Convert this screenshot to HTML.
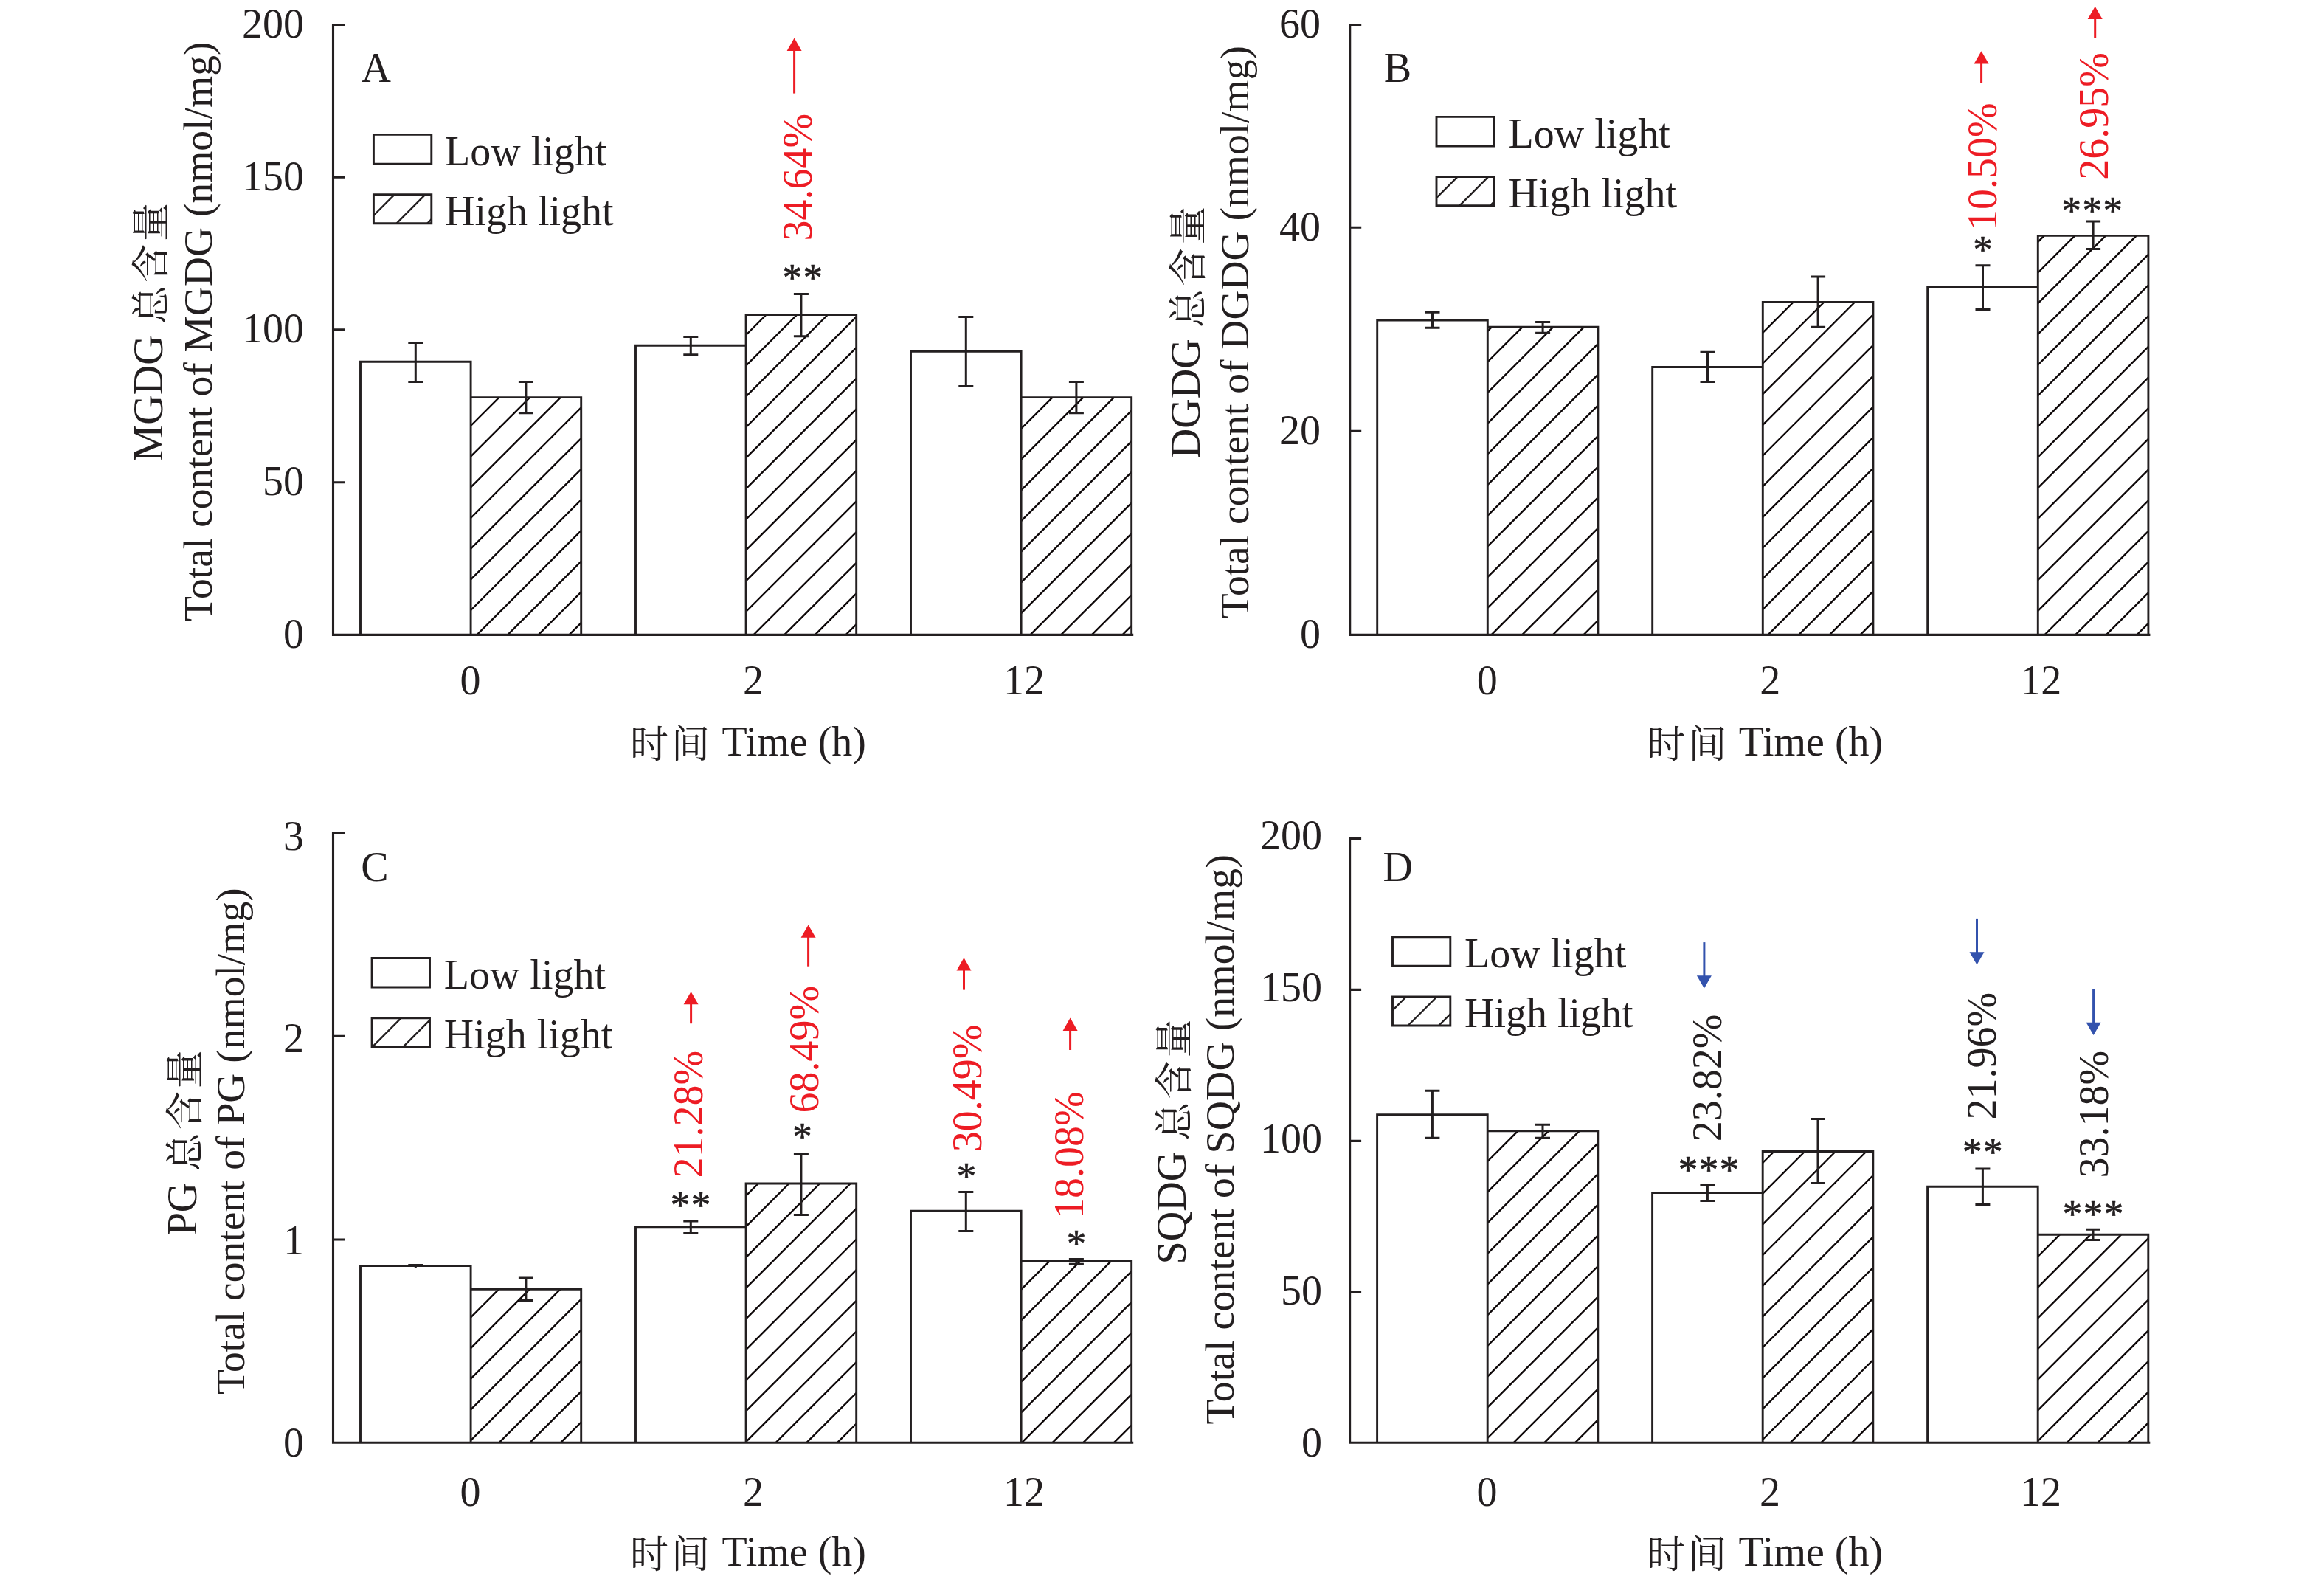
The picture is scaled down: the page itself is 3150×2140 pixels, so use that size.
<!DOCTYPE html>
<html lang="zh"><head><meta charset="utf-8"><title>Figure</title>
<style>html,body{margin:0;padding:0;background:#fff}svg{display:block}
text{font-family:"Liberation Serif","Noto Serif CJK SC",serif;font-size:56px;fill:#231f20}
.st{font-size:53px;letter-spacing:1.5px;stroke:#231f20;stroke-width:0.7px;stroke-linejoin:round}</style></head>
<body><svg width="3150" height="2140" viewBox="0 0 3150 2140">
<rect width="3150" height="2140" fill="#fff"/>
<path d="M638.1 577.0L676.5 538.6M638.1 618.7L718.2 538.6M638.1 660.4L759.9 538.6M638.1 702.0L787.7 552.4M638.1 743.7L787.7 594.1M638.1 785.4L787.7 635.8M638.1 827.0L787.7 677.4M646.4 860.4L787.7 719.1M688.1 860.4L787.7 760.8M729.7 860.4L787.7 802.4M771.4 860.4L787.7 844.1M1011.1 454.0L1038.6 426.5M1011.1 495.7L1080.3 426.5M1011.1 537.4L1122.0 426.5M1011.1 579.0L1160.7 429.4M1011.1 620.7L1160.7 471.1M1011.1 662.4L1160.7 512.8M1011.1 704.0L1160.7 554.4M1011.1 745.7L1160.7 596.1M1011.1 787.4L1160.7 637.8M1011.1 829.0L1160.7 679.4M1021.4 860.4L1160.7 721.1M1063.1 860.4L1160.7 762.8M1104.7 860.4L1160.7 804.4M1146.4 860.4L1160.7 846.1M1384.1 539.4L1384.9 538.6M1384.1 581.0L1426.5 538.6M1384.1 622.7L1468.2 538.6M1384.1 664.4L1509.9 538.6M1384.1 706.1L1533.7 556.5M1384.1 747.7L1533.7 598.1M1384.1 789.4L1533.7 639.8M1384.1 831.1L1533.7 681.5M1396.4 860.4L1533.7 723.1M1438.1 860.4L1533.7 764.8M1479.8 860.4L1533.7 806.5M1521.4 860.4L1533.7 848.1" stroke="#0d0708" stroke-width="2.4" fill="none"/>
<path d="M488.5 860.4V490.3H638.1V860.4M638.1 860.4V538.6H787.7V860.4M861.5 860.4V468.3H1011.1V860.4M1011.1 860.4V426.5H1160.7V860.4M1234.5 860.4V476.3H1384.1V860.4M1384.1 860.4V538.6H1533.7V860.4" stroke="#231f20" stroke-width="2.9" fill="none" stroke-linejoin="miter"/>
<path d="M563.3 464.5V517.6M553.3 464.5H573.3M553.3 517.6H573.3M712.9 517.4V559.7M702.9 517.4H722.9M702.9 559.7H722.9M936.3 456.4V480.7M926.3 456.4H946.3M926.3 480.7H946.3M1085.9 398.5V455.7M1075.9 398.5H1095.9M1075.9 455.7H1095.9M1309.3 429.6V523.6M1299.3 429.6H1319.3M1299.3 523.6H1319.3M1458.9 517.4V559.7M1448.9 517.4H1468.9M1448.9 559.7H1468.9" stroke="#231f20" stroke-width="3.0" fill="none"/>
<path d="M451.5 31.9V860.4H1536.2M451.5 33.5H467.0M451.5 240.2H467.0M451.5 446.9H467.0M451.5 653.7H467.0" stroke="#231f20" stroke-width="3.1" fill="none" stroke-linejoin="miter"/>
<text x="411.9" y="50.9" text-anchor="end">200</text>
<text x="411.9" y="257.6" text-anchor="end">150</text>
<text x="411.9" y="464.3" text-anchor="end">100</text>
<text x="411.9" y="671.1" text-anchor="end">50</text>
<text x="411.9" y="878.2" text-anchor="end">0</text>
<text x="637.5" y="941.0" text-anchor="middle">0</text>
<text x="1021.0" y="941.0" text-anchor="middle">2</text>
<text x="1388.0" y="941.0" text-anchor="middle">12</text>
<text x="1012.5" y="1023.6" text-anchor="middle"><tspan font-size="52" letter-spacing="4" dx="1.5" dy="3">时间</tspan><tspan dx="-1.5" dy="-3"> Time (h)</tspan></text>
<text transform="translate(220.0 448.2) rotate(-90)" text-anchor="middle">MGDG <tspan font-size="52" letter-spacing="4" dx="1.5" dy="3">总含量</tspan><tspan dx="-1.5" dy="-3"></tspan></text>
<text transform="translate(286.8 449.3) rotate(-90)" text-anchor="middle" style="font-size:55.5px">Total content of MGDG (nmol/mg)</text>
<text x="489.6" y="111.0">A</text>
<path d="M506.4 292.0L534.8 263.6M537.4 302.8L576.5 263.6M579.1 302.8L584.8 297.0" stroke="#231f20" stroke-width="2.4" fill="none"/>
<path d="M506.4 182.4H584.8V222.1H506.4ZM506.4 263.6H584.8V302.8H506.4Z" stroke="#231f20" stroke-width="2.9" fill="none"/>
<text x="603.0" y="224.0">Low light</text>
<text x="603.0" y="305.0">High light</text>
<text transform="translate(1099.5 326.5) rotate(-90)" style="fill:#ed1c24">34.64%</text>
<path d="M1076.6 126.6V67.9" stroke="#ed1c24" stroke-width="3" fill="none"/>
<path d="M1066.6 68.9L1086.6 68.9L1076.6 51.6Z" fill="#ed1c24"/>
<text x="1088.5" y="394.1" text-anchor="middle" class="st">**</text>
<path d="M2016.3 448.9L2022.0 443.2M2016.3 490.5L2063.6 443.2M2016.3 532.2L2105.3 443.2M2016.3 573.9L2147.0 443.2M2016.3 615.5L2165.9 465.9M2016.3 657.2L2165.9 507.6M2016.3 698.9L2165.9 549.3M2016.3 740.5L2165.9 590.9M2016.3 782.2L2165.9 632.6M2016.3 823.9L2165.9 674.3M2021.4 860.4L2165.9 715.9M2063.1 860.4L2165.9 757.6M2104.8 860.4L2165.9 799.3M2146.4 860.4L2165.9 840.9M2389.3 450.9L2430.7 409.5M2389.3 492.5L2472.3 409.5M2389.3 534.2L2514.0 409.5M2389.3 575.9L2538.9 426.3M2389.3 617.5L2538.9 467.9M2389.3 659.2L2538.9 509.6M2389.3 700.9L2538.9 551.3M2389.3 742.5L2538.9 592.9M2389.3 784.2L2538.9 634.6M2389.3 825.9L2538.9 676.3M2396.4 860.4L2538.9 717.9M2438.1 860.4L2538.9 759.6M2479.8 860.4L2538.9 801.3M2521.4 860.4L2538.9 842.9M2762.3 327.9L2770.8 319.4M2762.3 369.5L2812.4 319.4M2762.3 411.2L2854.1 319.4M2762.3 452.9L2895.8 319.4M2762.3 494.5L2911.9 344.9M2762.3 536.2L2911.9 386.6M2762.3 577.9L2911.9 428.3M2762.3 619.5L2911.9 469.9M2762.3 661.2L2911.9 511.6M2762.3 702.9L2911.9 553.3M2762.3 744.5L2911.9 594.9M2762.3 786.2L2911.9 636.6M2762.3 827.9L2911.9 678.3M2771.4 860.4L2911.9 719.9M2813.1 860.4L2911.9 761.6M2854.8 860.4L2911.9 803.3M2896.4 860.4L2911.9 844.9" stroke="#0d0708" stroke-width="2.4" fill="none"/>
<path d="M1866.7 860.4V434.1H2016.3V860.4M2016.3 860.4V443.2H2165.9V860.4M2239.7 860.4V497.5H2389.3V860.4M2389.3 860.4V409.5H2538.9V860.4M2612.7 860.4V389.4H2762.3V860.4M2762.3 860.4V319.4H2911.9V860.4" stroke="#231f20" stroke-width="2.9" fill="none" stroke-linejoin="miter"/>
<path d="M1941.5 423.3V444.3M1931.5 423.3H1951.5M1931.5 444.3H1951.5M2091.1 436.4V451.2M2081.1 436.4H2101.1M2081.1 451.2H2101.1M2314.5 477.3V517.6M2304.5 477.3H2324.5M2304.5 517.6H2324.5M2464.1 375.1V443.3M2454.1 375.1H2474.1M2454.1 443.3H2474.1M2687.5 359.8V419.5M2677.5 359.8H2697.5M2677.5 419.5H2697.5M2837.1 300.1V337.4M2827.1 300.1H2847.1M2827.1 337.4H2847.1" stroke="#231f20" stroke-width="3.0" fill="none"/>
<path d="M1829.7 31.9V860.4H2914.4M1829.7 33.5H1845.2M1829.7 308.3H1845.2M1829.7 584.4H1845.2" stroke="#231f20" stroke-width="3.1" fill="none" stroke-linejoin="miter"/>
<text x="1790.1" y="51.2" text-anchor="end">60</text>
<text x="1790.1" y="326.2" text-anchor="end">40</text>
<text x="1790.1" y="602.3" text-anchor="end">20</text>
<text x="1790.1" y="878.4" text-anchor="end">0</text>
<text x="2015.7" y="941.0" text-anchor="middle">0</text>
<text x="2399.2" y="941.0" text-anchor="middle">2</text>
<text x="2766.2" y="941.0" text-anchor="middle">12</text>
<text x="2390.7" y="1023.6" text-anchor="middle"><tspan font-size="52" letter-spacing="4" dx="1.5" dy="3">时间</tspan><tspan dx="-1.5" dy="-3"> Time (h)</tspan></text>
<text transform="translate(1625.8 448.5) rotate(-90)" text-anchor="middle">DGDG <tspan font-size="52" letter-spacing="4" dx="1.5" dy="3">总含量</tspan><tspan dx="-1.5" dy="-3"></tspan></text>
<text transform="translate(1692.2 450.1) rotate(-90)" text-anchor="middle" style="font-size:55.5px">Total content of DGDG (nmol/mg)</text>
<text x="1875.7" y="111.0">B</text>
<path d="M1947.0 268.2L1975.5 239.7M1978.1 278.8L2017.2 239.7M2019.7 278.8L2025.3 273.1" stroke="#231f20" stroke-width="2.4" fill="none"/>
<path d="M1947.0 158.4H2025.3V198.1H1947.0ZM1947.0 239.6H2025.3V278.8H1947.0Z" stroke="#231f20" stroke-width="2.9" fill="none"/>
<text x="2044.5" y="200.0">Low light</text>
<text x="2044.5" y="281.0">High light</text>
<text transform="translate(2705.7 312.0) rotate(-90)" style="fill:#ed1c24">10.50%</text>
<path d="M2685.6 112.2V85.6" stroke="#ed1c24" stroke-width="3" fill="none"/>
<path d="M2675.6 86.6L2695.6 86.6L2685.6 69.3Z" fill="#ed1c24"/>
<text x="2688.2" y="356.1" text-anchor="middle" class="st">*</text>
<text transform="translate(2857.2 243.8) rotate(-90)" style="fill:#ed1c24">26.95%</text>
<path d="M2839.7 51.9V25.0" stroke="#ed1c24" stroke-width="3" fill="none"/>
<path d="M2829.7 26.0L2849.7 26.0L2839.7 8.7Z" fill="#ed1c24"/>
<text x="2836.6" y="302.6" text-anchor="middle" class="st">***</text>
<path d="M638.1 1785.4L676.3 1747.2M638.1 1827.1L718.0 1747.2M638.1 1868.7L759.6 1747.2M638.1 1910.4L787.7 1760.8M638.1 1952.1L787.7 1802.5M676.6 1955.2L787.7 1844.1M718.3 1955.2L787.7 1885.8M760.0 1955.2L787.7 1927.5M1011.1 1620.7L1027.8 1604.0M1011.1 1662.4L1069.5 1604.0M1011.1 1704.1L1111.2 1604.0M1011.1 1745.7L1152.8 1604.0M1011.1 1787.4L1160.7 1637.8M1011.1 1829.1L1160.7 1679.5M1011.1 1870.7L1160.7 1721.1M1011.1 1912.4L1160.7 1762.8M1011.1 1954.1L1160.7 1804.5M1051.6 1955.2L1160.7 1846.1M1093.3 1955.2L1160.7 1887.8M1135.0 1955.2L1160.7 1929.5M1384.1 1747.7L1422.4 1709.4M1384.1 1789.4L1464.1 1709.4M1384.1 1831.1L1505.8 1709.4M1384.1 1872.7L1533.7 1723.1M1384.1 1914.4L1533.7 1764.8M1385.0 1955.2L1533.7 1806.5M1426.6 1955.2L1533.7 1848.1M1468.3 1955.2L1533.7 1889.8M1510.0 1955.2L1533.7 1931.5" stroke="#0d0708" stroke-width="2.4" fill="none"/>
<path d="M488.5 1955.2V1715.6H638.1V1955.2M638.1 1955.2V1747.2H787.7V1955.2M861.5 1955.2V1662.9H1011.1V1955.2M1011.1 1955.2V1604.0H1160.7V1955.2M1234.5 1955.2V1641.3H1384.1V1955.2M1384.1 1955.2V1709.4H1533.7V1955.2" stroke="#231f20" stroke-width="2.9" fill="none" stroke-linejoin="miter"/>
<path d="M563.3 1713.0V1718.2M553.3 1714.4H573.3M553.3 1715.6H573.3M712.9 1732.1V1762.4M702.9 1732.1H722.9M702.9 1762.4H722.9M936.3 1655.0V1671.5M926.3 1655.0H946.3M926.3 1671.5H946.3M1085.9 1563.6V1646.4M1075.9 1563.6H1095.9M1075.9 1646.4H1095.9M1309.3 1615.4V1668.5M1299.3 1615.4H1319.3M1299.3 1668.5H1319.3M1458.9 1706.6V1713.2M1448.9 1706.6H1468.9M1448.9 1713.2H1468.9" stroke="#231f20" stroke-width="3.0" fill="none"/>
<path d="M451.5 1127.0V1955.2H1536.2M451.5 1128.5H467.0M451.5 1404.2H467.0M451.5 1680.0H467.0" stroke="#231f20" stroke-width="3.1" fill="none" stroke-linejoin="miter"/>
<text x="411.9" y="1151.5" text-anchor="end">3</text>
<text x="411.9" y="1425.7" text-anchor="end">2</text>
<text x="411.9" y="1700.0" text-anchor="end">1</text>
<text x="411.9" y="1974.2" text-anchor="end">0</text>
<text x="637.5" y="2041.0" text-anchor="middle">0</text>
<text x="1021.0" y="2041.0" text-anchor="middle">2</text>
<text x="1388.0" y="2041.0" text-anchor="middle">12</text>
<text x="1012.5" y="2122.0" text-anchor="middle"><tspan font-size="52" letter-spacing="4" dx="1.5" dy="3">时间</tspan><tspan dx="-1.5" dy="-3"> Time (h)</tspan></text>
<text transform="translate(265.5 1546.8) rotate(-90)" text-anchor="middle">PG <tspan font-size="52" letter-spacing="4" dx="1.5" dy="3">总含量</tspan><tspan dx="-1.5" dy="-3"></tspan></text>
<text transform="translate(331.3 1546.7) rotate(-90)" text-anchor="middle" style="font-size:55.5px">Total content of PG (nmol/mg)</text>
<text x="489.3" y="1194.0">C</text>
<path d="M504.7 1418.8L543.8 1379.7M546.4 1418.8L582.5 1382.6" stroke="#231f20" stroke-width="2.4" fill="none"/>
<path d="M504.1 1298.5H582.5V1338.0H504.1ZM504.1 1379.7H582.5V1418.8H504.1Z" stroke="#231f20" stroke-width="2.9" fill="none"/>
<text x="601.7" y="1340.0">Low light</text>
<text x="601.7" y="1421.0">High light</text>
<text transform="translate(952.1 1596.5) rotate(-90)" style="fill:#ed1c24">21.28%</text>
<path d="M936.6 1387.2V1360.3" stroke="#ed1c24" stroke-width="3" fill="none"/>
<path d="M926.6 1361.3L946.6 1361.3L936.6 1344.0Z" fill="#ed1c24"/>
<text x="936.8" y="1650.6" text-anchor="middle" class="st">**</text>
<text transform="translate(1109.2 1508.4) rotate(-90)" style="fill:#ed1c24">68.49%</text>
<path d="M1095.6 1309.7V1269.7" stroke="#ed1c24" stroke-width="3" fill="none"/>
<path d="M1085.6 1270.7L1105.6 1270.7L1095.6 1253.4Z" fill="#ed1c24"/>
<text x="1088.2" y="1558.1" text-anchor="middle" class="st">*</text>
<text transform="translate(1330.2 1561.2) rotate(-90)" style="fill:#ed1c24">30.49%</text>
<path d="M1306.5 1341.6V1314.4" stroke="#ed1c24" stroke-width="3" fill="none"/>
<path d="M1296.5 1315.4L1316.5 1315.4L1306.5 1298.1Z" fill="#ed1c24"/>
<text x="1310.7" y="1612.1" text-anchor="middle" class="st">*</text>
<text transform="translate(1467.5 1652.0) rotate(-90)" style="fill:#ed1c24">18.08%</text>
<path d="M1450.6 1423.0V1395.9" stroke="#ed1c24" stroke-width="3" fill="none"/>
<path d="M1440.6 1396.9L1460.6 1396.9L1450.6 1379.6Z" fill="#ed1c24"/>
<text x="1459.8" y="1703.1" text-anchor="middle" class="st">*</text>
<path d="M2016.2 1574.0L2057.3 1532.9M2016.2 1615.6L2098.9 1532.9M2016.2 1657.3L2140.6 1532.9M2016.2 1699.0L2165.8 1549.4M2016.2 1740.6L2165.8 1591.0M2016.2 1782.3L2165.8 1632.7M2016.2 1824.0L2165.8 1674.4M2016.2 1865.6L2165.8 1716.0M2016.2 1907.3L2165.8 1757.7M2016.2 1949.0L2165.8 1799.4M2051.5 1955.3L2165.8 1841.0M2093.2 1955.3L2165.8 1882.7M2134.9 1955.3L2165.8 1924.4M2389.2 1576.0L2404.7 1560.5M2389.2 1617.6L2446.3 1560.5M2389.2 1659.3L2488.0 1560.5M2389.2 1701.0L2529.7 1560.5M2389.2 1742.6L2538.8 1593.0M2389.2 1784.3L2538.8 1634.7M2389.2 1826.0L2538.8 1676.4M2389.2 1867.6L2538.8 1718.0M2389.2 1909.3L2538.8 1759.7M2389.2 1951.0L2538.8 1801.4M2426.5 1955.3L2538.8 1843.0M2468.2 1955.3L2538.8 1884.7M2509.9 1955.3L2538.8 1926.4M2762.2 1703.0L2792.0 1673.2M2762.2 1744.6L2833.6 1673.2M2762.2 1786.3L2875.3 1673.2M2762.2 1828.0L2911.8 1678.4M2762.2 1869.6L2911.8 1720.0M2762.2 1911.3L2911.8 1761.7M2762.2 1953.0L2911.8 1803.4M2801.5 1955.3L2911.8 1845.0M2843.2 1955.3L2911.8 1886.7M2884.9 1955.3L2911.8 1928.4" stroke="#0d0708" stroke-width="2.4" fill="none"/>
<path d="M1866.6 1955.3V1510.6H2016.2V1955.3M2016.2 1955.3V1532.9H2165.8V1955.3M2239.6 1955.3V1616.6H2389.2V1955.3M2389.2 1955.3V1560.5H2538.8V1955.3M2612.6 1955.3V1608.2H2762.2V1955.3M2762.2 1955.3V1673.2H2911.8V1955.3" stroke="#231f20" stroke-width="2.9" fill="none" stroke-linejoin="miter"/>
<path d="M1941.4 1478.2V1542.2M1931.4 1478.2H1951.4M1931.4 1542.2H1951.4M2091.0 1524.3V1542.2M2081.0 1524.3H2101.0M2081.0 1542.2H2101.0M2314.4 1605.6V1627.6M2304.4 1605.6H2324.4M2304.4 1627.6H2324.4M2464.0 1516.4V1603.5M2454.0 1516.4H2474.0M2454.0 1603.5H2474.0M2687.4 1584.1V1632.5M2677.4 1584.1H2697.4M2677.4 1632.5H2697.4M2837.0 1666.2V1680.5M2827.0 1666.2H2847.0M2827.0 1680.5H2847.0" stroke="#231f20" stroke-width="3.0" fill="none"/>
<path d="M1829.6 1134.9V1955.3H2914.3M1829.6 1136.4H1845.1M1829.6 1341.4H1845.1M1829.6 1546.4H1845.1M1829.6 1750.5H1845.1" stroke="#231f20" stroke-width="3.1" fill="none" stroke-linejoin="miter"/>
<text x="1791.9" y="1150.6" text-anchor="end">200</text>
<text x="1791.9" y="1356.5" text-anchor="end">150</text>
<text x="1791.9" y="1562.4" text-anchor="end">100</text>
<text x="1791.9" y="1768.3" text-anchor="end">50</text>
<text x="1791.9" y="1974.2" text-anchor="end">0</text>
<text x="2015.6" y="2041.0" text-anchor="middle">0</text>
<text x="2399.1" y="2041.0" text-anchor="middle">2</text>
<text x="2766.1" y="2041.0" text-anchor="middle">12</text>
<text x="2390.6" y="2122.0" text-anchor="middle"><tspan font-size="52" letter-spacing="4" dx="1.5" dy="3">时间</tspan><tspan dx="-1.5" dy="-3"> Time (h)</tspan></text>
<text transform="translate(1607.0 1545.4) rotate(-90)" text-anchor="middle">SQDG <tspan font-size="52" letter-spacing="4" dx="1.5" dy="3">总含量</tspan><tspan dx="-1.5" dy="-3"></tspan></text>
<text transform="translate(1672.3 1544.3) rotate(-90)" text-anchor="middle" style="font-size:55.9px">Total content of SQDG (nmol/mg)</text>
<text x="1874.6" y="1193.7">D</text>
<path d="M1887.5 1369.4L1905.9 1351.0M1908.4 1390.0L1947.5 1351.0M1950.1 1390.0L1965.8 1374.3" stroke="#231f20" stroke-width="2.4" fill="none"/>
<path d="M1887.5 1269.8H1965.8V1309.3H1887.5ZM1887.5 1351.0H1965.8V1390.0H1887.5Z" stroke="#231f20" stroke-width="2.9" fill="none"/>
<text x="1985.0" y="1311.3">Low light</text>
<text x="1985.0" y="1392.3">High light</text>
<text transform="translate(2332.7 1547.3) rotate(-90)">23.82%</text>
<path d="M2309.9 1277.1V1323.2" stroke="#3352ad" stroke-width="3" fill="none"/>
<path d="M2299.9 1322.2L2319.9 1322.2L2309.9 1339.5Z" fill="#3352ad"/>
<text x="2316.8" y="1603.1" text-anchor="middle" class="st">***</text>
<text transform="translate(2705.0 1517.5) rotate(-90)">21.96%</text>
<path d="M2679.5 1244.9V1291.2" stroke="#3352ad" stroke-width="3" fill="none"/>
<path d="M2669.5 1290.2L2689.5 1290.2L2679.5 1307.5Z" fill="#3352ad"/>
<text x="2688.1" y="1579.1" text-anchor="middle" class="st">**</text>
<text transform="translate(2857.0 1596.6) rotate(-90)">33.18%</text>
<path d="M2837.6 1341.0V1386.7" stroke="#3352ad" stroke-width="3" fill="none"/>
<path d="M2827.6 1385.7L2847.6 1385.7L2837.6 1403.0Z" fill="#3352ad"/>
<text x="2837.8" y="1662.6" text-anchor="middle" class="st">***</text>
</svg></body></html>
